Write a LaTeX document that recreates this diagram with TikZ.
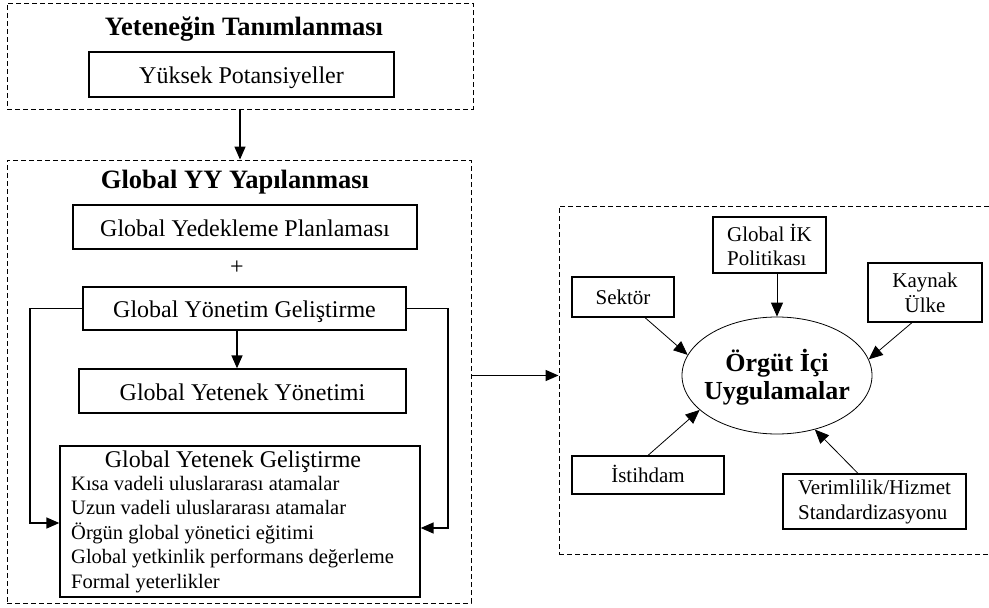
\documentclass[tikz,border=0pt]{standalone}
\usepackage{fontspec}
\setmainfont{Liberation Serif}
\usetikzlibrary{arrows.meta,shapes.geometric,calc}
\begin{document}
\begin{tikzpicture}[x=1pt,y=-1pt,
  frame/.style={draw, dash pattern=on 5pt off 3pt, line width=0.9pt, inner sep=0pt},
  box/.style={draw, line width=1.3pt, inner sep=0pt, font=\fontsize{24}{28}\selectfont,
              text height=19pt, text depth=1pt},
  sbox/.style={draw, line width=1.2pt, inner sep=0pt, font=\fontsize{21}{24}\selectfont},
  heading/.style={anchor=base, inner sep=0pt, font=\fontsize{26.5}{30}\selectfont\bfseries},
  item/.style={anchor=base west, inner sep=0pt, font=\fontsize{20.5}{24}\selectfont},
  conn/.style={line width=1.4pt, -{Triangle[length=13pt,width=11pt]}},
  thinarrow/.style={line width=0.8pt, -{Triangle[length=14pt,width=12pt]}}]
\useasboundingbox (0,0) rectangle (989,608);
\clip (0,0) rectangle (989,608);

% --- talent definition frame ---
\node[frame, minimum width=466pt, minimum height=106pt] (def) at (240,56) {};
\node[heading] (deftitle) at (244,35) {Yeteneğin Tanımlanması};
\node[box, minimum width=305pt, minimum height=45pt] (yp) at (241.5,74.5) {Yüksek Potansiyeller};

% --- global structuring frame ---
\node[frame, minimum width=464pt, minimum height=443pt] (yy) at (239,381.5) {};
\node[heading] (yytitle) at (235,188) {Global YY Yapılanması};
\node[box, minimum width=344pt, minimum height=44pt] (gyp) at (245,227) {Global Yedekleme Planlaması};
\node[inner sep=0pt, font=\fontsize{24}{28}\selectfont] (plus) at (237,268) {+};
\node[box, minimum width=323pt, minimum height=43pt] (gyg) at (244.5,308.5) {Global Yönetim Geliştirme};
\node[box, minimum width=327pt, minimum height=44pt] (gyy) at (242.5,391) {Global Yetenek Yönetimi};
\node[box, minimum width=360pt, minimum height=151pt, text height=, text depth=] (gyge) at (240,521.5) {};
\node[anchor=base, inner sep=0pt, font=\fontsize{24}{28}\selectfont] (gygetitle) at (233,467) {Global Yetenek Geliştirme};
\node[item] (i1) at (71,490) {Kısa vadeli uluslararası atamalar};
\node[item] (i2) at (71,514.5) {Uzun vadeli uluslararası atamalar};
\node[item] (i3) at (71,539) {Örgün global yönetici eğitimi};
\node[item] (i4) at (71,563.5) {Global yetkinlik performans değerleme};
\node[item] (i5) at (71,588) {Formal yeterlikler};

% --- in-organisation practices frame ---
\node[frame, minimum width=461pt, minimum height=348pt] (rb) at (789.5,380) {};
\node[ellipse, draw, line width=0.8pt, minimum width=190pt, minimum height=117pt, inner sep=0pt] (ou) at (777,375.5) {};
\node[align=center, inner sep=0pt, font=\fontsize{26}{28}\selectfont\bfseries] (outext) at (777,377) {Örgüt İçi\\Uygulamalar};
\node[sbox, minimum width=113pt, minimum height=56pt, align=left, font=\fontsize{21}{24}\selectfont] (ik) at (769.5,245) {Global İK\\Politikası};
\node[sbox, minimum width=102pt, minimum height=40pt, text height=14pt, text depth=0pt] (sek) at (623,297) {Sektör};
\node[sbox, minimum width=114pt, minimum height=59pt, align=center, font=\fontsize{21}{25}\selectfont] (kay) at (925,292.5) {Kaynak\\Ülke};
\node[sbox, minimum width=152pt, minimum height=38pt, text height=15pt, text depth=0pt] (ist) at (648,475) {İstihdam};
\node[sbox, minimum width=183pt, minimum height=55pt, align=left, font=\fontsize{21}{25}\selectfont] (ver) at (874.5,501.5) {Verimlilik/Hizmet\\Standardizasyonu};

% --- connectors ---
\coordinate (lbend) at (30,523);
\coordinate (rbend) at (448,528);
\draw[conn] (def.south) -- (def.south |- yy.north);
\draw[conn] (gyg.south -| plus) -- (gyy.north -| plus);
\draw[conn] (gyg.west) -| (lbend) -- (lbend -| gyge.west);
\draw[conn] (gyg.east) -| (rbend) -- (rbend -| gyge.east);
\draw[conn] (yy.east |- ou.center) -- (rb.west |- ou.center);

\draw[thinarrow] (ik.south -| ou.north) -- (ou.north);
\draw[thinarrow] ($(sek.south)+(22,0)$) -- (ou.167);
\draw[thinarrow] ($(kay.south)+(-13,0)$) -- (ou.10);
\draw[thinarrow] (ist.north) -- (ou.204);
\draw[thinarrow] ($(ver.north)+(-16.5,0)$) -- (ou.305);
\end{tikzpicture}
\end{document}
